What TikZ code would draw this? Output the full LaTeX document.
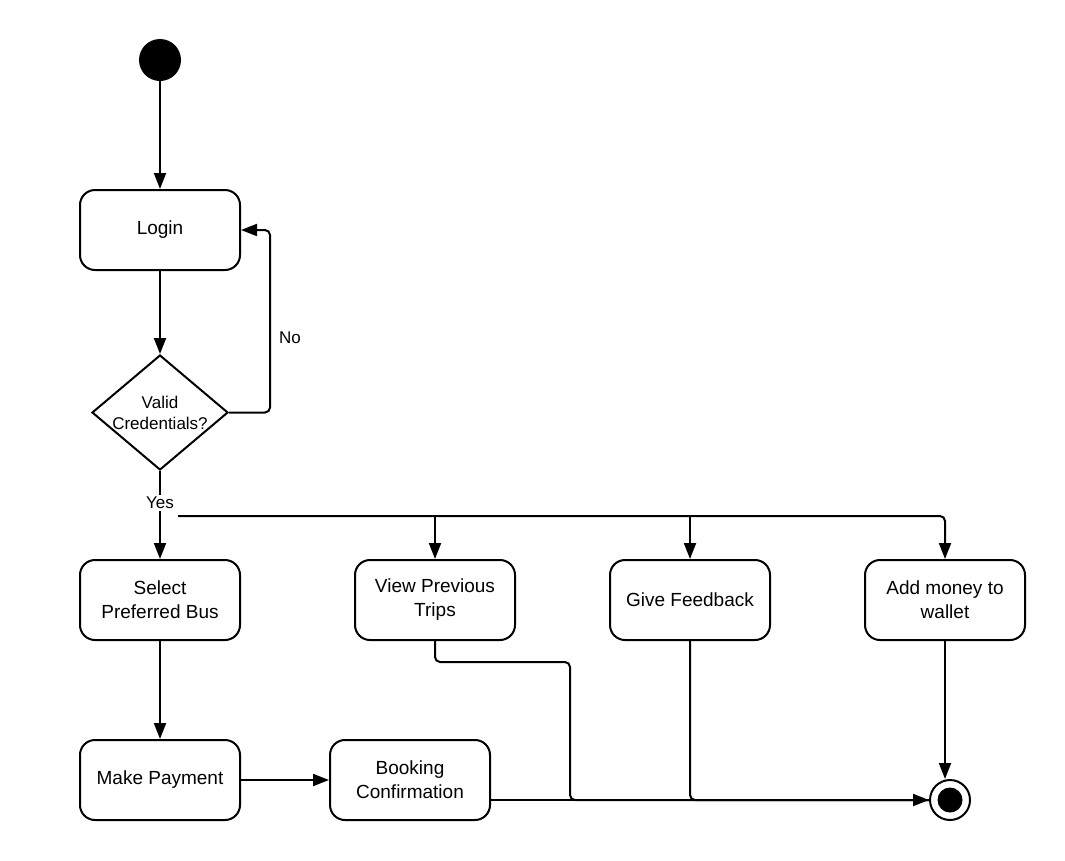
\documentclass[tikz,border=0pt]{standalone}
\usepackage{fontspec}
\setmainfont{Liberation Sans}
\usetikzlibrary{shapes.geometric,arrows.meta}
\begin{document}
\begin{tikzpicture}[x=1pt,y=-1pt,
  every node/.style={font=\fontsize{19}{24}\selectfont},
  activity/.style={draw,line width=2pt,rounded corners=15pt,minimum width=160pt,minimum height=80pt,align=center,inner sep=0pt},
  decision/.style={draw,line width=2pt,diamond,minimum width=136pt,minimum height=115pt,inner sep=0pt},
  dtext/.style={align=center,inner sep=0pt,font=\fontsize{17}{21}\selectfont},
  flow/.style={line width=2pt,rounded corners=5pt,-{Triangle[length=16pt,width=12pt]}},
  plain/.style={line width=2pt,rounded corners=5pt},
  lbl/.style={font=\fontsize{17}{20}\selectfont}]
\useasboundingbox (0,0) rectangle (1065,860);

% initial and final states
\node (start) [circle,fill=black,minimum size=42pt,inner sep=0pt] at (160,60) {};
\node (final) [circle,draw,line width=2pt,minimum size=40pt,inner sep=0pt] at (950,800) {};
\fill (final.center) circle (12.5pt);

% activities
\node (login) [activity] at (160,230) {Login};
\node (valid) [decision] at (160,412.5) {};
\node (validtext) [dtext] at (valid) {Valid\\Credentials?};
\node (select) [activity] at (160,600) {Select\\Preferred Bus};
\node (view) [activity] at (435,600) {View Previous\\Trips};
\node (feedback) [activity] at (690,600) {Give Feedback};
\node (wallet) [activity] at (945,600) {Add money to\\wallet};
\node (payment) [activity] at (160,780) {Make Payment};
\node (booking) [activity] at (410,780) {Booking\\Confirmation};

% control flow
\draw[flow] (start) -- (login);
\draw[flow] (login) -- (valid);
\draw[flow] (valid.east) -- (270,412.5) -- (270,230) -- (login.east);
\node (no) [lbl] at (290,338) {No};

\draw[flow] (valid.south) -- (select.north);
\node (yes) [lbl,fill=white,inner sep=2pt] at (160,503) {Yes};
\coordinate (fork) at (178,516);
\draw[flow] (fork) -- (945,516) -- (wallet.north);
\draw[flow] (435,516) -- (view.north);
\draw[flow] (690,516) -- (feedback.north);

\draw[flow] (select) -- (payment);
\draw[flow] (payment) -- (booking);
\draw[flow] (booking.east |- final) -- (final.west);
\draw[plain] (view.south) -- (435,662) -- (570,662) -- (570,800) -- (final.west);
\draw[plain] (feedback.south) |- (final.west);
\draw[flow] (wallet.south) -- (wallet.south |- final.north);
\end{tikzpicture}
\end{document}
